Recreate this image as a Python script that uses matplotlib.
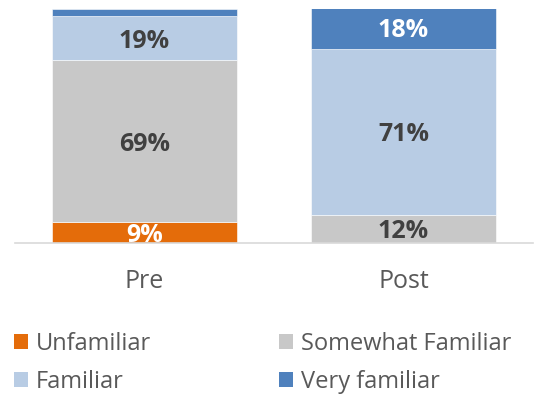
import matplotlib
matplotlib.use("Agg")
import matplotlib.pyplot as plt
from matplotlib.patches import Patch

categories = ["Pre", "Post"]
series_names = ["Unfamiliar", "Somewhat Familiar", "Familiar", "Very familiar"]
unfamiliar = [9, 0]
somewhat = [69, 12]
familiar = [19, 71]
very = [3, 18]
colors = ["#E46C0A", "#C8C8C8", "#B8CCE4", "#4F81BD"]
label_colors = ["white", "#404040", "#404040", "white"]

plt.rcParams['font.family'] = ['Open Sans', 'DejaVu Sans']

fig = plt.figure(figsize=(5.43, 3.95), dpi=100)
ax = fig.add_axes([15/543, 1-243/395, 518/543, 234/395])

series = [unfamiliar, somewhat, familiar, very]
x = list(range(len(categories)))
bottoms = [0]*len(categories)
for vals, col, lc in zip(series, colors, label_colors):
    ax.bar(x, vals, width=0.714, bottom=bottoms, color=col, edgecolor="white", linewidth=0.4)
    for i, v in enumerate(vals):
        if v >= 5:
            ax.text(x[i], bottoms[i] + v/2, f"{v}%", ha="center", va="center_baseline",
                    fontsize=18, fontweight="bold", color=lc)
    bottoms = [b + v for b, v in zip(bottoms, vals)]

ax.set_xlim(-0.5, 1.5)
ax.set_ylim(0, 100)
ax.set_yticks([])
ax.set_xticks(x)
ax.set_xticklabels(categories, fontsize=18, color="#595959")
ax.tick_params(axis="x", length=0, pad=19)
for s in ["top", "right", "left"]:
    ax.spines[s].set_visible(False)
ax.spines["bottom"].set_color("#D9D9D9")
ax.spines["bottom"].set_linewidth(1.2)

order = [0, 2, 1, 3]
handles = [Patch(facecolor=colors[i], edgecolor="none") for i in order]
labels = [series_names[i] for i in order]
fig.legend(handles, labels, ncol=2, loc="upper left", bbox_to_anchor=(0.012, 1-325/395),
           frameon=False, fontsize=17, labelcolor="#595959", handlelength=0.6,
           handleheight=0.6, handletextpad=0.35, columnspacing=5.4, labelspacing=0.6,
           borderaxespad=0, borderpad=0.3)

fig.savefig("out.png", dpi=100)
